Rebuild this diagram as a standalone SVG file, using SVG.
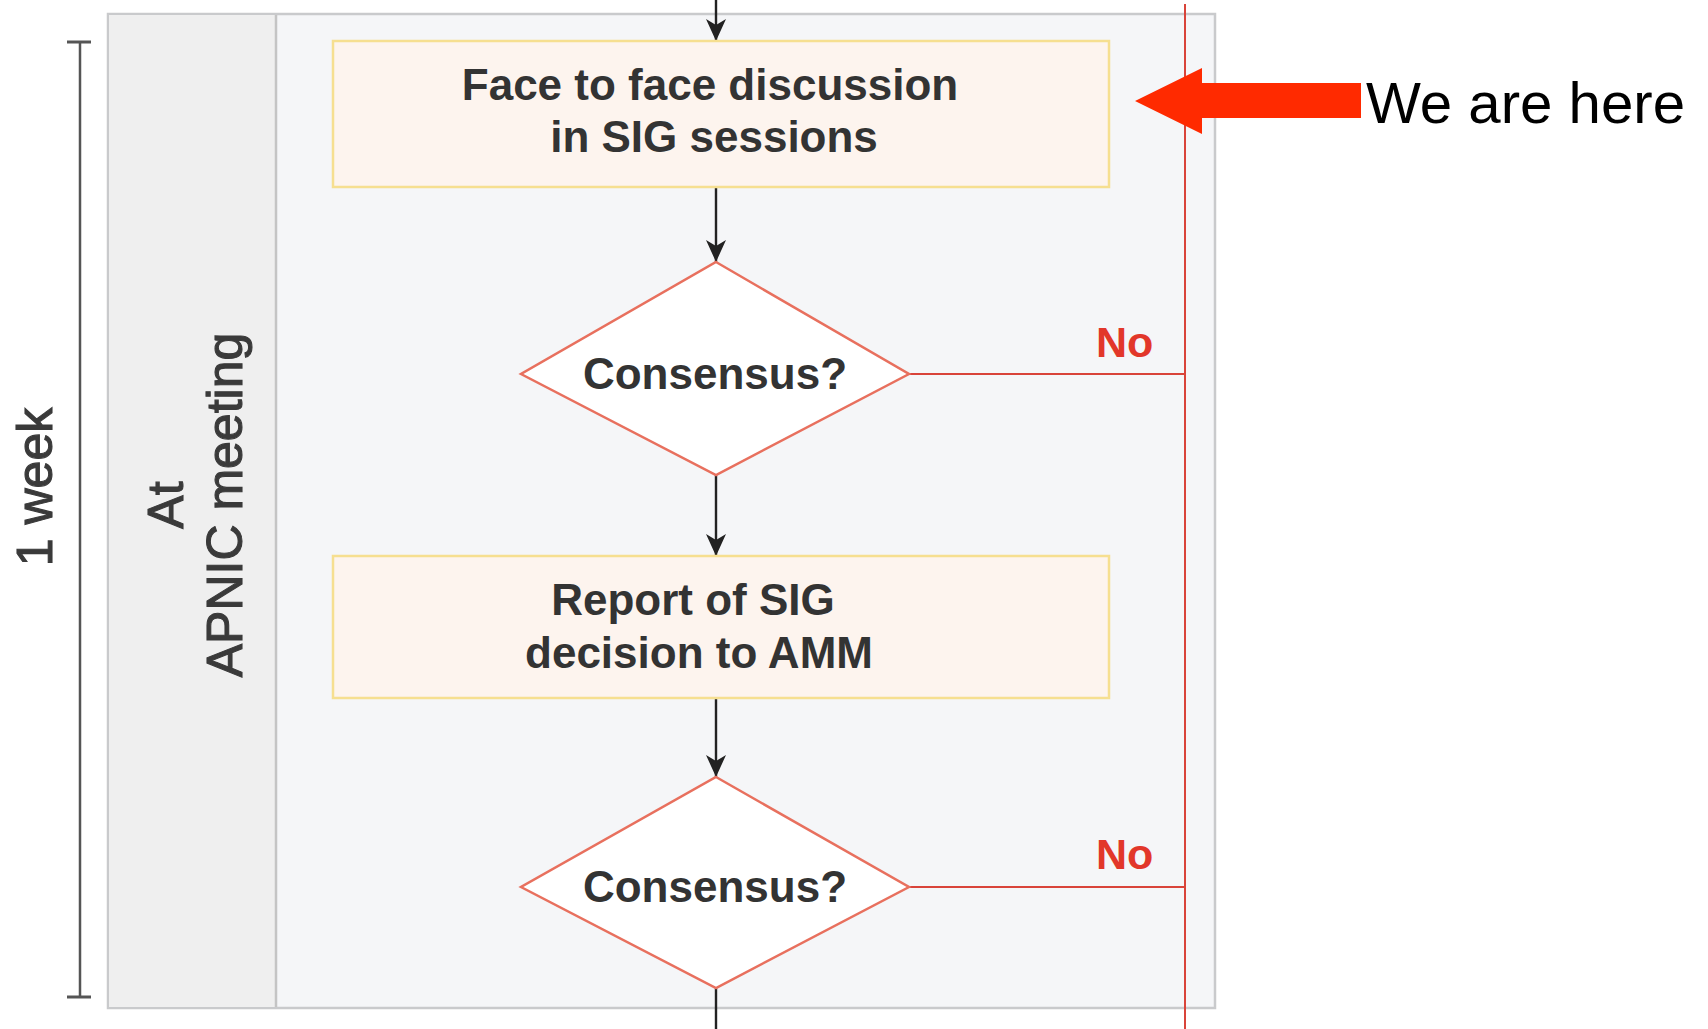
<svg xmlns="http://www.w3.org/2000/svg" width="1708" height="1029" viewBox="0 0 1708 1029">
<defs>
<style>
.lbl{font-family:"Liberation Sans",Arial,sans-serif;font-weight:bold;font-size:44px;fill:#333;text-anchor:middle}
.side{font-family:"Liberation Sans",Arial,sans-serif;font-size:50px;fill:#3a3a3a;stroke:#3a3a3a;stroke-width:1.1;text-anchor:middle}
.no{font-family:"Liberation Sans",Arial,sans-serif;font-weight:bold;font-size:43px;fill:#e2372a}
.box{fill:#fdf4ee;stroke:#f6df90;stroke-width:2.5}
.dia{fill:#ffffff;stroke:#e8705e;stroke-width:2.5}
.flow{stroke:#222;stroke-width:2.4;fill:none}
.red{stroke:#d9443a;stroke-width:2;fill:none}
</style>
<marker id="ah" viewBox="0 0 22 20" refX="22" refY="10" markerWidth="22" markerHeight="20" markerUnits="userSpaceOnUse" orient="auto">
<path d="M0,0 L22,10 L0,20 L6,10 Z" fill="#222"/>
</marker>
</defs>
<rect width="1708" height="1029" fill="#ffffff"/>
<g id="panel">
<rect x="108" y="14" width="1107" height="994" fill="#f5f6f8" stroke="#c9cacc" stroke-width="2.5"/>
<rect x="109" y="15" width="167" height="992" fill="#efefef"/>
<line x1="276" y1="15" x2="276" y2="1007" stroke="#c4c4c4" stroke-width="2.5"/>
</g>
<g id="bracket">
<line x1="80" y1="42" x2="80" y2="997" stroke="#555" stroke-width="2.5"/>
<line x1="67" y1="42" x2="91" y2="42" stroke="#555" stroke-width="3"/>
<line x1="67" y1="997" x2="91" y2="997" stroke="#555" stroke-width="3"/>
<text class="side" transform="translate(52,487) rotate(-90)">1 week</text>
</g>
<g id="lane-label">
<text class="side" transform="translate(183,505) rotate(-90)">At</text>
<text class="side" transform="translate(242,505) rotate(-90)">APNIC meeting</text>
</g>
<g id="connectors">
<line class="flow" x1="716" y1="0" x2="716" y2="41" marker-end="url(#ah)"/>
<line class="flow" x1="716" y1="187" x2="716" y2="262" marker-end="url(#ah)"/>
<line class="flow" x1="716" y1="475" x2="716" y2="556" marker-end="url(#ah)"/>
<line class="flow" x1="716" y1="698" x2="716" y2="777" marker-end="url(#ah)"/>
<line class="flow" x1="716" y1="988" x2="716" y2="1029"/>
<line class="red" x1="1185" y1="4" x2="1185" y2="1029"/>
<line class="red" x1="909" y1="374" x2="1185" y2="374"/>
<line class="red" x1="909" y1="887" x2="1185" y2="887"/>
</g>
<g id="face-to-face">
<rect class="box" x="333" y="41" width="776" height="146"/>
<text class="lbl" x="710" y="100">Face to face discussion</text>
<text class="lbl" x="714" y="152">in SIG sessions</text>
</g>
<g id="consensus-1">
<polygon class="dia" points="716,262 909,374 716,475 521,374"/>
<text class="lbl" x="715" y="389">Consensus?</text>
<text class="no" x="1096" y="357">No</text>
</g>
<g id="report">
<rect class="box" x="333" y="556" width="776" height="142"/>
<text class="lbl" x="693" y="615">Report of SIG</text>
<text class="lbl" x="699" y="668">decision to AMM</text>
</g>
<g id="consensus-2">
<polygon class="dia" points="716,777 909,887 716,988 521,887"/>
<text class="lbl" x="715" y="902">Consensus?</text>
<text class="no" x="1096" y="869">No</text>
</g>
<g id="we-are-here">
<polygon points="1135,101 1202,68 1202,83 1361,83 1361,118 1202,118 1202,134" fill="#ff2a00"/>
<text x="1366" y="123" font-family="'Liberation Sans',Arial,sans-serif" font-size="58" fill="#000" textLength="319" lengthAdjust="spacingAndGlyphs">We are here</text>
</g>
</svg>
